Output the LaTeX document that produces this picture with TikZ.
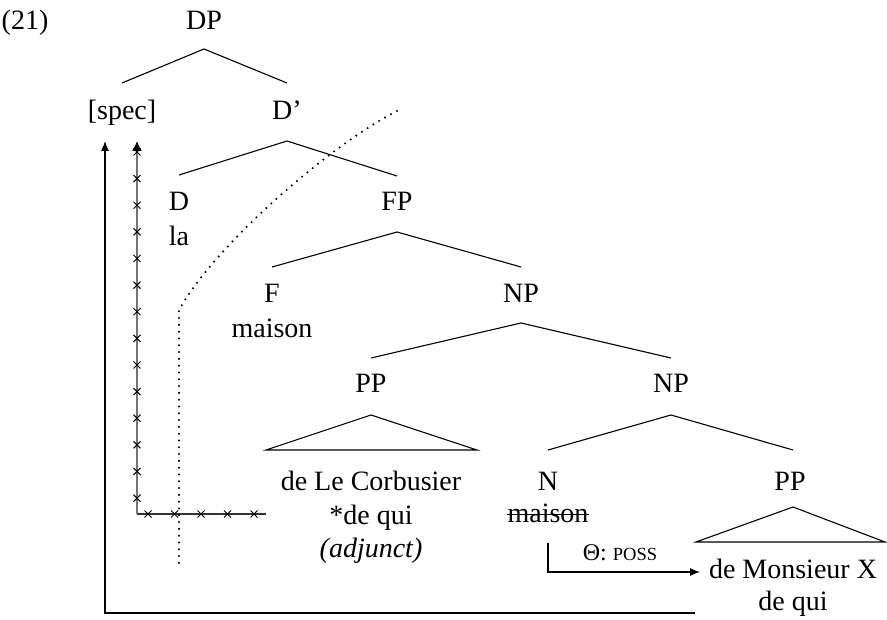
\documentclass[tikz,border=0pt]{standalone}
\usepackage{fontspec}
\setmainfont{Liberation Serif}
\usetikzlibrary{arrows.meta}
\begin{document}
\begin{tikzpicture}[x=1pt,y=-1pt,
  lbl/.style={anchor=base,inner sep=0pt,font=\fontsize{28}{33}\selectfont},
  br/.style={line width=1.1pt},
  arr/.style={line width=1.1pt,-{Latex[length=10pt,width=10pt,color=black]}},
  sarr/.style={line width=1.1pt,-{Latex[length=10pt,width=8pt]}},
  dots/.style={line width=2.3pt,line cap=round,dash pattern=on 0pt off 6.8pt},
  xm/.pic={\draw[line width=1pt] (-3.5,-3.5)--(3.5,3.5) (-3.5,3.5)--(3.5,-3.5);}]
\useasboundingbox (0,0) rectangle (887,620);
% labels
\node[lbl] (ex) at (25,30) {(21)};
\node[lbl] (DP) at (204,30) {DP};
\node[lbl] (spec) at (122,120) {[spec]};
\node[lbl] (Dbar) at (287,120) {D’};
\node[lbl] (D) at (179,211) {D};
\node[lbl] (la) at (179,246) {la};
\node[lbl] (FP) at (397,211) {FP};
\node[lbl] (F) at (272,303) {F};
\node[lbl] (Fm) at (272,338) {maison};
\node[lbl] (NPa) at (521,303) {NP};
\node[lbl] (PPa) at (371,393) {PP};
\node[lbl] (NPb) at (671,393) {NP};
\node[lbl] (corb) at (371,490) {de Le Corbusier};
\node[lbl] (dqa) at (371,524) {*de qui};
\node[lbl] (adj) at (371,557) {\textit{(adjunct)}};
\node[lbl] (N) at (548,490) {N};
\node[lbl] (Nm) at (548,522) {maison};
\draw[line width=1.1pt] ([yshift=7.5pt]Nm.base west) -- ([yshift=7.5pt]Nm.base east);
\node[lbl] (PPb) at (790,490) {PP};
\node[lbl] (mx) at (793,578) {de Monsieur X};
\node[lbl] (dqb) at (793,610) {de qui};
\node[lbl,font=\fontsize{24}{26}\selectfont] (theta) at (620,560) {Θ: {\fontsize{18.5}{20}\selectfont POSS}};
% branch points
\coordinate (DPt) at (204,49); \coordinate (DPl) at (122,83); \coordinate (DPr) at (287,83);
\coordinate (Dbt) at (287,141); \coordinate (Dbl) at (179,175); \coordinate (Dbr) at (397,176);
\coordinate (FPt) at (397,232); \coordinate (FPl) at (272,267); \coordinate (FPr) at (521,267);
\coordinate (NPat) at (521,323); \coordinate (NPal) at (371,358); \coordinate (NPar) at (671,358);
\coordinate (NPbt) at (671,415); \coordinate (NPbl) at (548,450); \coordinate (NPbr) at (793,450);
\coordinate (PPat) at (371,415); \coordinate (PPal) at (266,450); \coordinate (PPar) at (477,450);
\coordinate (PPbt) at (793,507); \coordinate (PPbl) at (696,542); \coordinate (PPbr) at (885,542);
\draw[br] (DPl) -- (DPt) -- (DPr);
\draw[br] (Dbl) -- (Dbt) -- (Dbr);
\draw[br] (FPl) -- (FPt) -- (FPr);
\draw[br] (NPal) -- (NPat) -- (NPar);
\draw[br] (NPbl) -- (NPbt) -- (NPbr);
\draw[br] (PPal) -- (PPat) -- (PPar) -- cycle;
\draw[br] (PPbl) -- (PPbt) -- (PPbr) -- cycle;
% theta arrow
\coordinate (ts) at (548,543); \coordinate (te) at (700,572);
\draw[sarr] (ts) |- (te);
% long arrow
\coordinate (la1) at (695,613); \coordinate (la2) at (105,141);
\draw[sarr] (la1) -| (la2);
% crossed path
\coordinate (c1) at (266,514); \coordinate (cc) at (137,514); \coordinate (c2) at (137,141);
\draw[line width=1.1pt,black!80] (c1) -- (cc);
\draw[arr,black!55,line width=1.5pt] (cc) -- (c2);
\foreach \k in {0,...,13} \pic at (137,{152+26.62*\k}) {xm};
\foreach \k in {0,...,4} \pic at ({148+26.5*\k},514) {xm};
% dotted
\coordinate (d1) at (397,111); \coordinate (d2) at (179,310); \coordinate (d3) at (179,563);
\draw[dots] (d1) .. controls (330,145) and (215,245) .. (d2) -- (d3);
\end{tikzpicture}
\end{document}
